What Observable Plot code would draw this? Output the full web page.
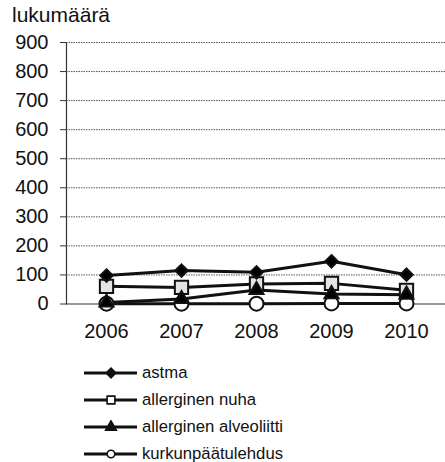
<!DOCTYPE html>
<html><head><meta charset="utf-8">
<script src="https://cdn.jsdelivr.net/npm/d3@7"></script>
<script src="https://cdn.jsdelivr.net/npm/@observablehq/plot@0.6"></script>
<style>
body{margin:0;background:#fff;font-family:"Liberation Sans",Arial,sans-serif;}
#wrap{position:relative;width:445px;height:462px;overflow:hidden;}
#title{position:absolute;left:12px;top:3px;font-size:21px;color:#111;}
#chart{position:absolute;left:0;top:30px;}
#legend{position:absolute;left:84px;top:359px;}
.row{height:27px;display:flex;align-items:center;font-size:16.7px;color:#111;}
.row svg{margin-right:5px;}
</style></head>
<body><div id="wrap"><div id="title">lukumäärä</div><div id="chart"></div><div id="legend"></div></div>
<script>
const years = ["2006","2007","2008","2009","2010"];
const seriesNames = ["astma","allerginen nuha","allerginen alveoliitti","kurkunpäätulehdus"];
const astma = [98, 115, 109, 147, 101];
const nuha = [61, 57, 69, 71, 47];
const alveoliitti = [5, 17, 48, 34, 32];
const kurkunpaa = [1, 1, 1, 2, 2];
const yTicks = [0,100,200,300,400,500,600,700,800,900];

const valuesBySeries = [astma, nuha, alveoliitti, kurkunpaa];
const symbols = ["diamond2","square","triangle","circle"];
const fills = ["#000","#e4e4e4","#000","#fff"];
const radii = [5.6, 7.5, 5.2, 7];
const data = [];
seriesNames.forEach((s,i)=>years.forEach((y,j)=>data.push({series:s, year:y, value:valuesBySeries[i][j], idx:i})));

const chart = Plot.plot({
  width:445, height:324,
  marginLeft:66, marginRight:0, marginTop:12, marginBottom:50.5,
  style:{fontFamily:"Liberation Sans, Arial, sans-serif", fontSize:"20px", color:"#111", background:"transparent"},
  x:{type:"point", domain:years, padding:0.5, label:null},
  y:{domain:[0,900], label:null},
  r:{type:"identity"},
  marks:[
    Plot.gridY(yTicks.filter(d=>d>0), {stroke:"#555", strokeOpacity:1, strokeDasharray:"1.5,1", strokeWidth:1}),
    Plot.axisY(yTicks, {tickSize:6, tickPadding:12, stroke:"#333", fontSize:20, label:null}),
    Plot.axisX(years, {tickSize:0, tickPadding:20, fontSize:20, label:null}),
    Plot.frame({anchor:"left", stroke:"#333", strokeWidth:1.2}),
    Plot.ruleY([0], {stroke:"#333", strokeWidth:1.2}),
    Plot.line(data, {x:"year", y:"value", z:"series", stroke:"#111", strokeWidth:3}),
    Plot.dot(data, {x:"year", y:"value", symbol:d=>symbols[d.idx], fill:d=>fills[d.idx], stroke:"#111", strokeWidth:2, r:d=>radii[d.idx]})
  ],
  symbol:{type:"identity"}, color:{type:"identity"}
});
document.getElementById("chart").appendChild(chart);

const legend = d3.select("#legend");
const legSyms = [d3.symbolDiamond2, d3.symbolSquare, d3.symbolTriangle, d3.symbolCircle];
const legSizes = [60, 60, 50, 45];
seriesNames.forEach((s,i)=>{
  const row = legend.append("div").attr("class","row");
  const sv = row.append("svg").attr("width",53).attr("height",14);
  sv.append("line").attr("x1",0).attr("x2",53).attr("y1",7).attr("y2",7).attr("stroke","#111").attr("stroke-width",2.8);
  const sym = d3.symbol().type(legSyms[i]).size(legSizes[i])();
  sv.append("path").attr("d",sym).attr("transform","translate(27,7)").attr("fill",["#111","#fff","#111","#fff"][i]).attr("stroke","#111").attr("stroke-width",1.6);
  row.append("span").text(s);
});
</script></body></html>
